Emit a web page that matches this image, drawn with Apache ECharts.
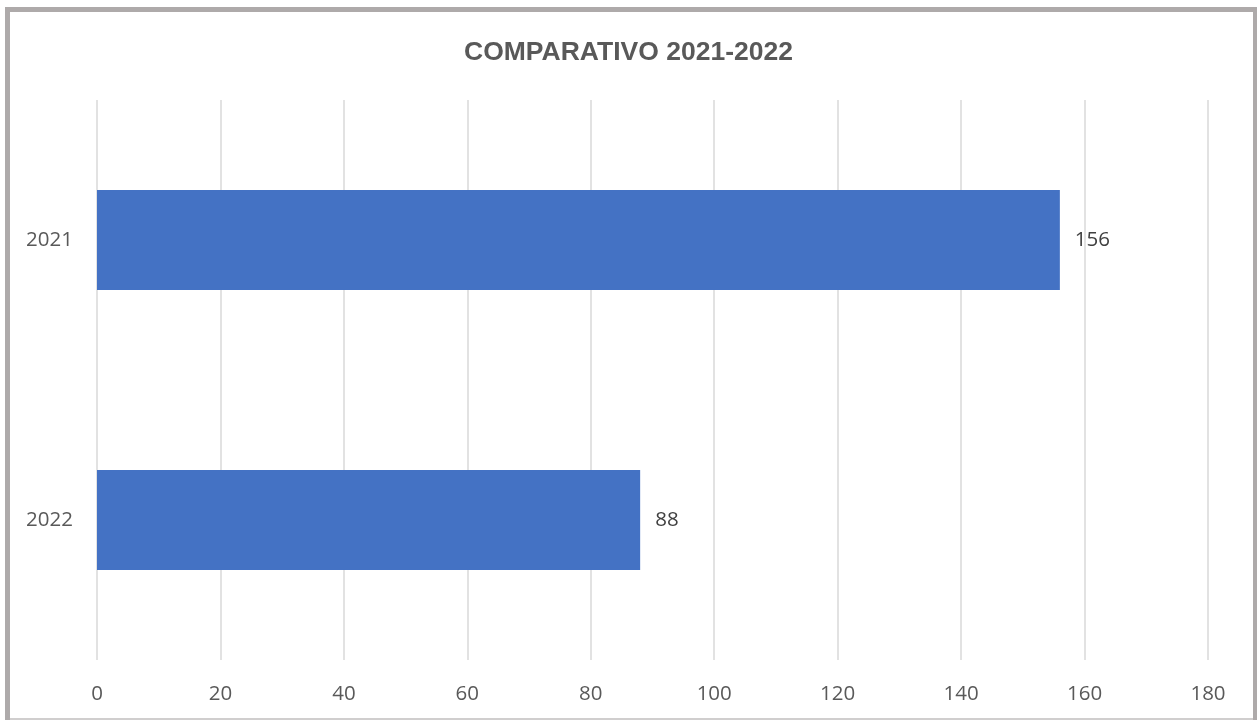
<!DOCTYPE html>
<html><head><meta charset="utf-8">
<script src="https://cdn.jsdelivr.net/npm/echarts@6/dist/echarts.min.js"></script>
<style>
html,body{margin:0;padding:0;background:#fff;width:1257px;height:720px;overflow:hidden;}
#frame{position:absolute;left:5px;top:7px;width:1253px;height:720px;border-left:5px solid #AEAAAA;border-top:5px solid #AEAAAA;border-right:5px solid #AEAAAA;box-sizing:border-box;}
#bottomline{position:absolute;left:10px;top:718px;width:1243px;height:2px;background:#D0CECE;}
#main{position:absolute;left:0;top:0;width:1257px;height:720px;}
</style></head>
<body>
<div id="frame"></div>
<div id="bottomline"></div>
<div id="main"></div>
<script>
const title = 'COMPARATIVO 2021-2022';
const categories = ['2021', '2022'];
const values = [156, 88];
const xTicks = [0, 20, 40, 60, 80, 100, 120, 140, 160, 180];

const chart = echarts.init(document.getElementById('main'));
chart.setOption({
  animation: false,
  title: {
    text: title, left: 'center', top: 34,
    textStyle: {fontFamily: '"Liberation Sans Narrow","Liberation Sans",Arial', fontWeight: 'bold', fontSize: 26.5, color: '#595959'}
  },
  grid: {left: 97, right: 49, top: 100, bottom: 60},
  xAxis: {
    type: 'value', min: xTicks[0], max: xTicks[xTicks.length-1], interval: 20,
    axisLine: {show: false}, axisTick: {show: false},
    splitLine: {lineStyle: {color: '#D9D9D9', width: 1.5}},
    axisLabel: {color: '#595959', fontSize: 20.5, fontFamily: '"Open Sans","Noto Sans",sans-serif', margin: 24}
  },
  yAxis: {
    type: 'category', data: categories, inverse: true,
    axisLine: {show: false}, axisTick: {show: false},
    axisLabel: {color: '#595959', fontSize: 20.5, fontFamily: '"Open Sans","Noto Sans",sans-serif', margin: 24}
  },
  series: [{
    type: 'bar', data: values, barWidth: 100,
    itemStyle: {color: '#4472C4'},
    label: {show: true, position: 'right', distance: 15, color: '#404040', fontSize: 20.5, fontFamily: '"Open Sans","Noto Sans",sans-serif'}
  }]
});
</script>
</body></html>
